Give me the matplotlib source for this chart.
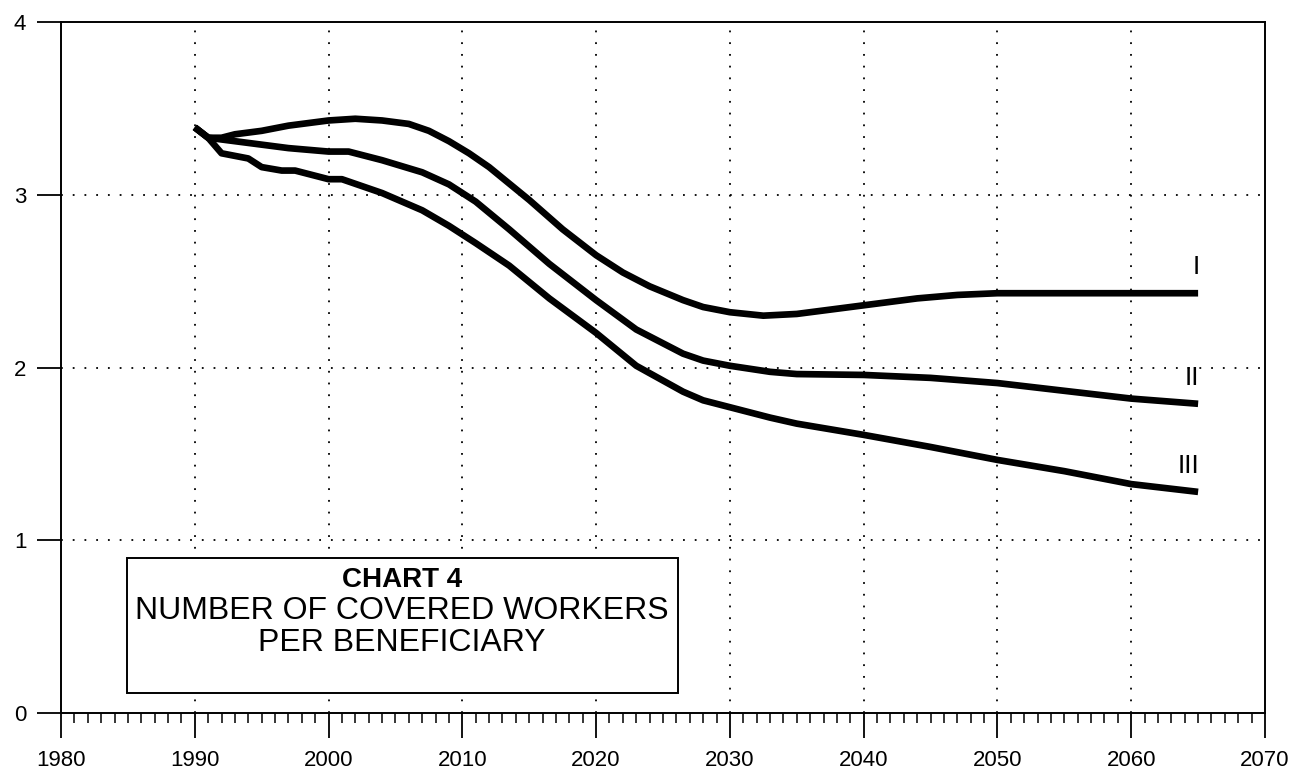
import matplotlib
matplotlib.use("Agg")
import matplotlib.pyplot as plt
from matplotlib.patches import Rectangle
from matplotlib.ticker import MultipleLocator

plt.rcParams['font.family'] = ['Liberation Sans', 'DejaVu Sans']

# ---- data ----
years_I = [1990, 1991, 1992, 1993, 1995, 1997, 2000, 2002, 2004, 2006, 2007.5, 2009,
           2010.5, 2012, 2015, 2017.5, 2020, 2022, 2024, 2026.5, 2028, 2030, 2032.5,
           2035, 2037.5, 2040, 2044, 2047, 2050, 2055, 2060, 2065]
vals_I = [3.39, 3.33, 3.33, 3.35, 3.37, 3.40, 3.43, 3.44, 3.43, 3.41, 3.37, 3.31,
          3.24, 3.16, 2.97, 2.80, 2.65, 2.55, 2.47, 2.39, 2.35, 2.32, 2.30,
          2.31, 2.335, 2.36, 2.40, 2.42, 2.43, 2.43, 2.43, 2.43]

years_II = [1990, 1991, 1992, 1994, 1997, 2000, 2001.5, 2004, 2007, 2009, 2011,
            2013.5, 2016.5, 2020, 2023, 2026.5, 2028, 2030, 2033, 2035, 2040, 2045,
            2050, 2055, 2060, 2065]
vals_II = [3.39, 3.33, 3.32, 3.30, 3.27, 3.25, 3.25, 3.20, 3.13, 3.06, 2.96,
           2.80, 2.60, 2.39, 2.22, 2.08, 2.04, 2.01, 1.975, 1.962, 1.957, 1.94,
           1.91, 1.865, 1.82, 1.79]

years_III = [1990, 1991, 1992, 1994, 1995, 1996.5, 1997.5, 2000, 2001, 2004, 2007,
             2009, 2011, 2013.5, 2016.5, 2020, 2023, 2026.5, 2028, 2030, 2033, 2035,
             2040, 2045, 2050, 2055, 2060, 2065]
vals_III = [3.39, 3.33, 3.24, 3.21, 3.16, 3.14, 3.14, 3.09, 3.09, 3.01, 2.91,
            2.82, 2.72, 2.59, 2.40, 2.20, 2.01, 1.86, 1.81, 1.77, 1.71, 1.675,
            1.61, 1.54, 1.465, 1.40, 1.325, 1.28]

series = [(years_I, vals_I, "I"), (years_II, vals_II, "II"), (years_III, vals_III, "III")]

x_ticks = list(range(1980, 2071, 10))
y_ticks = [0, 1, 2, 3, 4]
title_lines = ["CHART 4", "NUMBER OF COVERED WORKERS", "PER BENEFICIARY"]

# ---- figure ----
fig = plt.figure(figsize=(12.94, 7.74), dpi=100)
ax = fig.add_axes([61 / 1294, 1 - 713 / 774, (1265 - 61) / 1294, (713 - 22) / 774])

ax.set_xlim(1980, 2070)
ax.set_ylim(0, 4)

for spine in ax.spines.values():
    spine.set_linewidth(1.4)
    spine.set_color('black')

# grid
for x in x_ticks[1:-1]:
    ax.axvline(x, color='black', lw=1.3, ls=(0, (1, 5.5)), zorder=1)
for y in y_ticks[1:-1]:
    ax.axhline(y, color='black', lw=1.3, ls=(0, (1, 5.5)), zorder=1)

# series
for xs, ys, lab in series:
    ax.plot(xs, ys, color='black', lw=4.8, solid_capstyle='butt',
            solid_joinstyle='round', zorder=3)
    ax.annotate(lab, xy=(xs[-1], ys[-1]), xytext=(1, 10), textcoords='offset points',
                ha='right', va='bottom', fontsize=19, color='black')

# ticks
ax.set_xticks(x_ticks)
ax.set_xticklabels([str(x) for x in x_ticks])
ax.xaxis.set_minor_locator(MultipleLocator(1))
ax.set_yticks(y_ticks)
ax.set_yticklabels([str(y) for y in y_ticks])
ax.tick_params(axis='x', which='major', direction='out', length=18, width=1.3,
               labelsize=16, pad=9)
ax.tick_params(axis='x', which='minor', direction='out', length=7, width=1.1)
ax.tick_params(axis='y', which='major', direction='out', length=17, width=1.3,
               labelsize=16, pad=8)
ax.tick_params(axis='y', which='minor', left=False)

# title box
box = Rectangle((1984.9, 0.116), 2026.1 - 1984.9, 0.897 - 0.116, fill=True,
                facecolor='white', edgecolor='black', lw=1.4, zorder=4)
ax.add_patch(box)
cx = (1984.9 + 2026.1) / 2
ax.text(cx, 0.77, title_lines[0], ha='center', va='center', fontsize=20,
        fontweight='bold', zorder=5)
ax.text(cx, 0.59, title_lines[1], ha='center', va='center', fontsize=23, zorder=5)
ax.text(cx, 0.405, title_lines[2], ha='center', va='center', fontsize=23, zorder=5)

fig.savefig("out.png", dpi=100)
